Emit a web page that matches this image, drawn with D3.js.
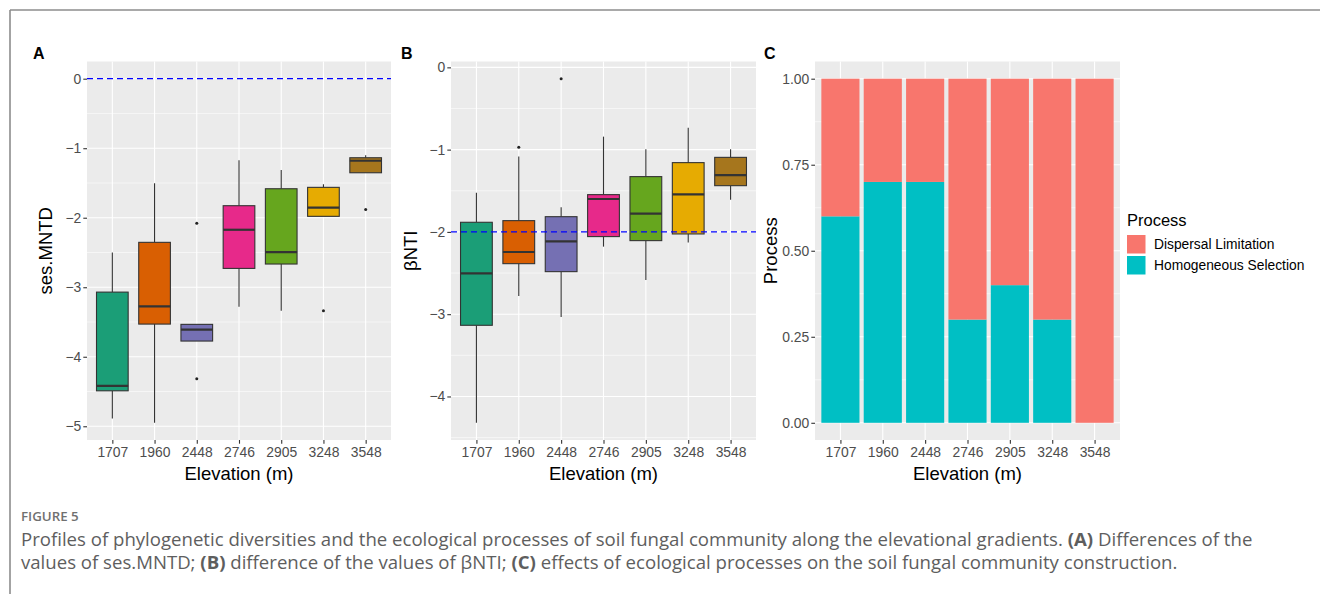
<!DOCTYPE html>
<html><head><meta charset="utf-8">
<script src="https://cdn.jsdelivr.net/npm/d3@7"></script>
<style>
body{margin:0;background:#fff;}
svg{display:block;}
</style></head>
<body><svg id="c" width="1320" height="594"></svg>
<script>
// ---------------- data ----------------
const categories = ["1707","1960","2448","2746","2905","3248","3548"];
const boxColors = ["#1B9E77","#D95F02","#7570B3","#E7298A","#66A61E","#E6AB02","#A6761D"];

// Panel A: ses.MNTD box statistics
const mntdLower  = [-4.89, -4.95, -3.774, -3.28, -3.338, -1.98, -1.353];
const mntdQ1     = [-4.49, -3.53, -3.774, -2.729, -2.666, -1.98, -1.353];
const mntdMedian = [-4.42, -3.275, -3.61, -2.173, -2.494, -1.856, -1.18];
const mntdQ3     = [-3.07, -2.354, -3.534, -1.827, -1.583, -1.563, -1.137];
const mntdUpper  = [-2.50, -1.505, -3.534, -1.174, -1.314, -1.52, -1.10];
const mntdOutlierCats   = ["2448","2448","3248","3548"];
const mntdOutlierValues = [-2.08, -4.317, -3.338, -1.88];
const mntdTicks = [0,-1,-2,-3,-4,-5];

// Panel B: βNTI box statistics
const bntiLower  = [-4.32, -2.778, -3.034, -2.179, -2.584, -2.13, -1.608];
const bntiQ1     = [-3.135, -2.386, -2.483, -2.057, -2.106, -2.025, -1.438];
const bntiMedian = [-2.503, -2.244, -2.114, -1.60, -1.778, -1.543, -1.309];
const bntiQ3     = [-1.883, -1.863, -1.815, -1.547, -1.328, -1.158, -1.094];
const bntiUpper  = [-1.523, -1.085, -1.70, -0.842, -0.996, -0.733, -0.996];
const bntiOutlierCats   = ["1960","2448"];
const bntiOutlierValues = [-0.972, -0.138];
const bntiTicks = [0,-1,-2,-3,-4];

// Panel C: process proportions
const processNames = ["Dispersal Limitation","Homogeneous Selection"];
const processColors = ["#F8766D","#00BFC4"];
const homogeneous = [0.6, 0.7, 0.7, 0.3, 0.4, 0.3, 0.0];
const dispersal   = [0.4, 0.3, 0.3, 0.7, 0.6, 0.7, 1.0];
const processTicks = [0, 0.25, 0.5, 0.75, 1];

// ---------------- drawing ----------------
const svg = d3.select("#c");
const FONT = "'Liberation Sans', Arial, sans-serif";
const TOP = 61.5, BOTTOM = 440;
const TICKFS = "13.9px";
const fmtMinus = v => (v < 0 ? "\u2212" + Math.abs(v) : String(v));

// frame
svg.append("line").attr("x1",10).attr("x2",1320).attr("y1",10).attr("y2",10)
  .attr("stroke","#8c8c8c").attr("stroke-width",1.6);
svg.append("line").attr("x1",10).attr("x2",10).attr("y1",10).attr("y2",594)
  .attr("stroke","#8c8c8c").attr("stroke-width",1.6);

function expandDomain(lo, hi){ const d=(hi-lo)*0.05; return [lo-d, hi+d]; }

function panel(opts){
  const {left,right,yDomain,ticks,minor,tickFmt,yTitle,yTitleX,letter,letterX} = opts;
  const g = svg.append("g");
  const x = d3.scalePoint().domain(categories).range([left,right]).padding(0.6);
  const y = d3.scaleLinear().domain(yDomain).range([BOTTOM,TOP]);
  g.append("rect").attr("x",left).attr("y",TOP).attr("width",right-left).attr("height",BOTTOM-TOP).attr("fill","#EBEBEB");
  g.selectAll(".mg").data(minor).join("line")
    .attr("x1",left).attr("x2",right).attr("y1",d=>y(d)).attr("y2",d=>y(d))
    .attr("stroke","#fff").attr("stroke-width",0.55);
  g.selectAll(".Mg").data(ticks).join("line")
    .attr("x1",left).attr("x2",right).attr("y1",d=>y(d)).attr("y2",d=>y(d))
    .attr("stroke","#fff").attr("stroke-width",1.1);
  g.selectAll(".vg").data(categories).join("line")
    .attr("x1",d=>x(d)).attr("x2",d=>x(d)).attr("y1",TOP).attr("y2",BOTTOM)
    .attr("stroke","#fff").attr("stroke-width",1.1);
  const ya = d3.axisLeft(y).tickValues(ticks).tickFormat(tickFmt).tickSize(3.7).tickPadding(2);
  const ag = g.append("g").attr("transform",`translate(${left},0)`).call(ya);
  ag.select(".domain").remove();
  ag.selectAll(".tick line").attr("stroke","#333").attr("stroke-width",1.1);
  ag.selectAll(".tick text").attr("fill","#4D4D4D").style("font-family",FONT).style("font-size",TICKFS);
  const xa = d3.axisBottom(x).tickSize(3.7).tickPadding(3);
  const bg = g.append("g").attr("transform",`translate(0,${BOTTOM})`).call(xa);
  bg.select(".domain").remove();
  bg.selectAll(".tick line").attr("stroke","#333").attr("stroke-width",1.1);
  bg.selectAll(".tick text").attr("fill","#4D4D4D").style("font-family",FONT).style("font-size",TICKFS);
  g.append("text").attr("x",(left+right)/2).attr("y",480).attr("text-anchor","middle")
    .style("font-family",FONT).style("font-size","18.5px").attr("fill","#000").text("Elevation (m)");
  g.append("text").attr("transform",`translate(${yTitleX},${(TOP+BOTTOM)/2}) rotate(-90)`)
    .attr("text-anchor","middle").style("font-family",FONT).style("font-size","18.5px").attr("fill","#000").text(yTitle);
  g.append("text").attr("x",letterX).attr("y",59).style("font-family",FONT).style("font-size","16px")
    .style("font-weight","bold").attr("fill","#000").text(letter);
  return {g,x,y};
}

function boxPanel(opts, lower, q1, med, q3, upper, oCats, oVals, hline){
  const {g,x,y} = panel(opts);
  const bw = x.step()*0.75;
  const rows = categories.map((c,i)=>({c,i,lo:lower[i],q1:q1[i],md:med[i],q3:q3[i],hi:upper[i]}));
  g.selectAll(".wu").data(rows).join("line")
    .attr("x1",d=>x(d.c)).attr("x2",d=>x(d.c)).attr("y1",d=>y(d.q3)).attr("y2",d=>y(d.hi))
    .attr("stroke","#333").attr("stroke-width",1.1);
  g.selectAll(".wl").data(rows).join("line")
    .attr("x1",d=>x(d.c)).attr("x2",d=>x(d.c)).attr("y1",d=>y(d.q1)).attr("y2",d=>y(d.lo))
    .attr("stroke","#333").attr("stroke-width",1.1);
  g.selectAll(".bx").data(rows).join("rect")
    .attr("x",d=>x(d.c)-bw/2).attr("width",bw)
    .attr("y",d=>y(d.q3)).attr("height",d=>y(d.q1)-y(d.q3))
    .attr("fill",d=>boxColors[d.i]).attr("stroke","#333").attr("stroke-width",1.1);
  g.selectAll(".md").data(rows).join("line")
    .attr("x1",d=>x(d.c)-bw/2).attr("x2",d=>x(d.c)+bw/2).attr("y1",d=>y(d.md)).attr("y2",d=>y(d.md))
    .attr("stroke","#333").attr("stroke-width",2.2);
  g.selectAll(".out").data(oCats.map((c,i)=>({c,v:oVals[i]}))).join("circle")
    .attr("cx",d=>x(d.c)).attr("cy",d=>y(d.v)).attr("r",1.5).attr("fill","#222");
  const xr = x.range();
  g.append("line").attr("x1",xr[0]).attr("x2",xr[1]).attr("y1",y(hline)).attr("y2",y(hline))
    .attr("stroke","#0000FF").attr("stroke-width",1.3).attr("stroke-dasharray","6,4");
}

function minorBreaks(ticks, dom){
  const s = [...ticks].sort((a,b)=>a-b); const step = s[1]-s[0];
  const out=[]; for(let v=s[0]-step/2; v<=s[s.length-1]+step; v+=step){ if(v>dom[0] && v<dom[1]) out.push(v);} return out;
}

// Panel A
const domA = expandDomain(d3.min([...mntdLower,...mntdOutlierValues,0]), d3.max([...mntdUpper,...mntdOutlierValues,0]));
boxPanel({left:87,right:391,yDomain:domA,ticks:mntdTicks,minor:minorBreaks(mntdTicks,domA),tickFmt:fmtMinus,
  yTitle:"ses.MNTD",yTitleX:52,letter:"A",letterX:33},
  mntdLower,mntdQ1,mntdMedian,mntdQ3,mntdUpper,mntdOutlierCats,mntdOutlierValues,0);

// Panel B
const domB = expandDomain(d3.min([...bntiLower,...bntiOutlierValues]), d3.max([...bntiUpper,...bntiOutlierValues]));
boxPanel({left:451,right:756,yDomain:domB,ticks:bntiTicks,minor:minorBreaks(bntiTicks,domB),tickFmt:fmtMinus,
  yTitle:"\u03B2NTI",yTitleX:417,letter:"B",letterX:401},
  bntiLower,bntiQ1,bntiMedian,bntiQ3,bntiUpper,bntiOutlierCats,bntiOutlierValues,-2);

// Panel C
(function(){
  const domC = expandDomain(0,1);
  const {g,x,y} = panel({left:815,right:1120,yDomain:domC,ticks:processTicks,minor:minorBreaks(processTicks,domC),
    tickFmt:d3.format(".2f"),yTitle:"Process",yTitleX:777,letter:"C",letterX:764});
  const bw = x.step()*0.9;
  const stackData = categories.map((c,i)=>({c,"Homogeneous Selection":homogeneous[i],"Dispersal Limitation":dispersal[i]}));
  const stack = d3.stack().keys(["Homogeneous Selection","Dispersal Limitation"])(stackData);
  stack.forEach(layer=>{
    const col = processColors[processNames.indexOf(layer.key)];
    g.selectAll(null).data(layer.filter(d=>d[1]-d[0]>0)).join("rect")
      .attr("x",d=>x(d.data.c)-bw/2).attr("width",bw)
      .attr("y",d=>y(d[1])).attr("height",d=>y(d[0])-y(d[1])).attr("fill",col);
  });
  const lg = svg.append("g");
  lg.append("text").attr("x",1127).attr("y",226).style("font-family",FONT).style("font-size","16.5px").attr("fill","#000").text("Process");
  processNames.forEach((n,i)=>{
    lg.append("rect").attr("x",1127).attr("y",235+i*21).attr("width",18.5).attr("height",18.5).attr("fill",processColors[i]);
    lg.append("text").attr("x",1154).attr("y",249+i*21).style("font-family",FONT).style("font-size","13.8px").attr("fill","#000").text(n);
  });
})();

// ---------------- caption ----------------
const CAPFONT = "'Open Sans', 'Noto Sans', sans-serif";
svg.append("text").attr("x",21).attr("y",521).style("font-family",CAPFONT).style("font-size","13.3px")
  .style("font-weight","600").attr("fill","#707070").text("FIGURE 5");
const capLines = [
  [["Profiles of phylogenetic diversities and the ecological processes of soil fungal community along the elevational gradients. ",false],["(A)",true],[" Differences of the",false]],
  [["values of ses.MNTD; ",false],["(B)",true],[" difference of the values of \u03B2NTI; ",false],["(C)",true],[" effects of ecological processes on the soil fungal community construction.",false]]
];
const capY = [546, 569];
const capTargetW = 1232;
capLines.forEach((parts,li)=>{
  const t = svg.append("text").attr("x",21).attr("y",capY[li]).style("font-family",CAPFONT)
    .style("font-size","16px").attr("fill","#5e5e5e");
  parts.forEach(([s,b])=>t.append("tspan").style("font-weight",b?"700":"400").text(s));
  capLines[li].node = t;
});
(function(){
  const w = capLines[0].node.node().getComputedTextLength();
  const fs = 16*capTargetW/w;
  capLines.forEach(l=>l.node.style("font-size",fs.toFixed(2)+"px"));
})();
</script></body></html>
